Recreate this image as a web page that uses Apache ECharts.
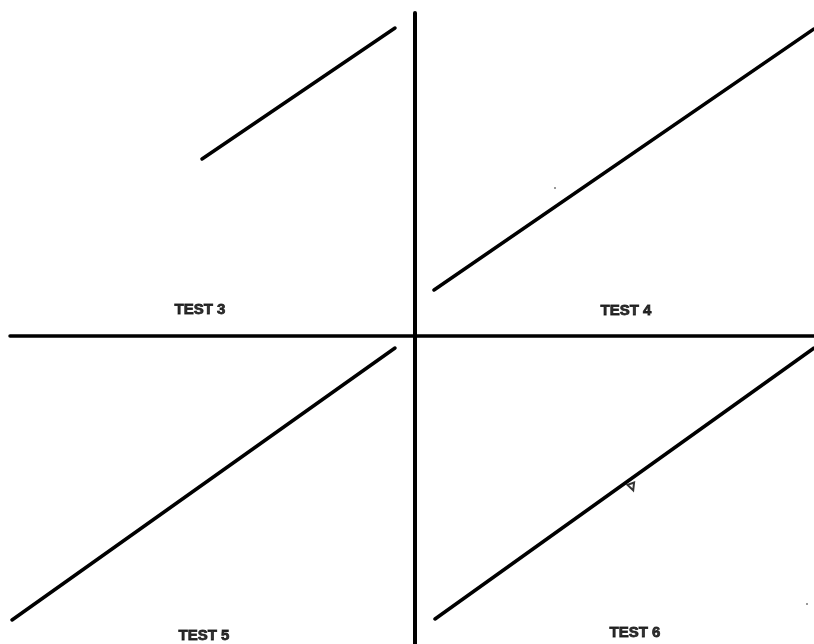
<!DOCTYPE html>
<html>
<head>
<meta charset="utf-8">
<script src="https://cdn.jsdelivr.net/npm/echarts@6/dist/echarts.min.js"></script>
<style>
html,body{margin:0;padding:0;background:#fff;}
#chart{width:814px;height:644px;}
</style>
</head>
<body>
<div id="chart"></div>
<script>
// Coordinates relative to the crossing of the two divider lines (y upward)
const test3 = [[-213, 177], [-20, 308]];
const test4 = [[19, 46], [399, 307]];
const test5 = [[-403, -284], [-20, -12]];
const test6 = [[20, -283], [399, -12]];
const vDivider = [[0, -308], [0, 323]];
const hDivider = [[-405, 0], [399, 0]];
const labelNames = ['TEST 3', 'TEST 4', 'TEST 5', 'TEST 6'];
const labelPos = [[-215, 26], [211, 25], [-211, -300], [220, -297]];
const smallMarks = [[217, -151]];
const specks = [[140, 148], [392, -268]];

const lineStyle = {color: '#000', width: 3.5, cap: 'round'};
function seg(name, data, w) {
  return {
    name: name, type: 'line', data: data, symbol: 'none', silent: true,
    lineStyle: Object.assign({}, lineStyle, w ? {width: w} : {}),
    animation: false
  };
}

const chart = echarts.init(document.getElementById('chart'));
chart.setOption({
  backgroundColor: '#fff',
  animation: false,
  grid: {left: 0, right: 0, top: 0, bottom: 0},
  xAxis: {type: 'value', min: -415, max: 399, show: false},
  yAxis: {type: 'value', min: -308, max: 336, show: false},
  series: [
    seg('vDivider', vDivider, 4),
    seg('hDivider', hDivider, 3.5),
    seg('TEST 3', test3),
    seg('TEST 4', test4),
    seg('TEST 5', test5),
    seg('TEST 6', test6),
    {
      type: 'scatter',
      data: labelPos.map((p, i) => ({name: labelNames[i], value: p})),
      symbolSize: 0,
      label: {
        show: true, position: 'inside', formatter: '{b}',
        color: '#000', fontFamily: 'Liberation Sans', fontWeight: 'bold', fontSize: 15,
        textBorderColor: '#000', textBorderWidth: 0.8
      },
      silent: true
    },
    {
      type: 'scatter', data: smallMarks, symbol: 'emptyTriangle', symbolSize: 7,
      symbolRotate: 200,
      itemStyle: {color: '#000', borderColor: '#000', borderWidth: 2}, silent: true
    },
    {
      type: 'scatter', data: specks, symbol: 'circle', symbolSize: 2,
      itemStyle: {color: '#555'}, silent: true
    }
  ]
});
</script>
</body>
</html>
